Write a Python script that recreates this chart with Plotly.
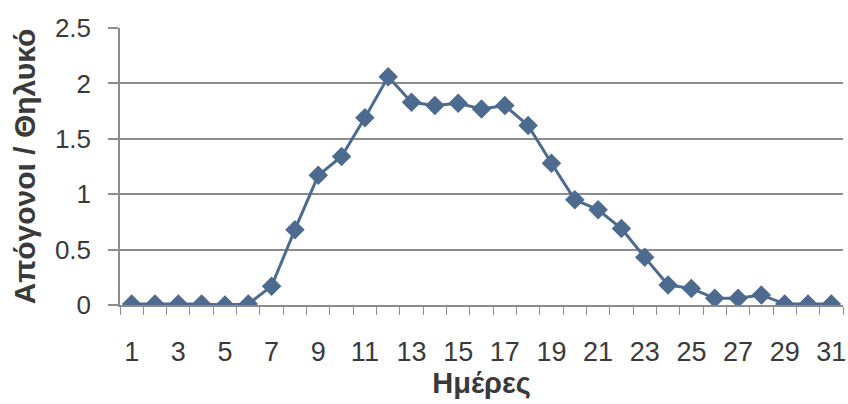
import plotly.graph_objects as go

# Offspring per female, by day
days = [str(d) for d in range(1, 32)]
offspring_per_female = [
    0.01, 0.01, 0.01, 0.01, 0.0, 0.01, 0.17, 0.68, 1.17, 1.34,
    1.69, 2.06, 1.83, 1.80, 1.82, 1.77, 1.80, 1.62, 1.28, 0.95,
    0.86, 0.69, 0.43, 0.18, 0.15, 0.06, 0.06, 0.09, 0.01, 0.01, 0.01,
]
y_ticks = [0, 0.5, 1, 1.5, 2, 2.5]
y_tick_text = ["0", "0.5", "1", "1.5", "2", "2.5"]

SERIES = "#4d6b8f"
GRID = "#8c8c8c"
TEXT = "#3a3a3a"
FONT = "Liberation Sans, Arial, sans-serif"

fig = go.Figure(
    go.Scatter(
        x=days,
        y=offspring_per_female,
        mode="lines+markers",
        line=dict(color=SERIES, width=3),
        marker=dict(symbol="diamond", size=15, color=SERIES),
        hoverinfo="x+y",
    )
)

fig.update_layout(
    width=848,
    height=404,
    margin=dict(l=120, r=5, t=28, b=99),
    paper_bgcolor="#ffffff",
    plot_bgcolor="#ffffff",
    showlegend=False,
    font=dict(family=FONT, color=TEXT, size=26),
)

fig.update_xaxes(
    type="category",
    range=[-0.5, len(days) - 0.5],
    tickmode="linear",
    tick0=0,
    dtick=1,
    tickson="boundaries",
    tickangle=0,
    ticks="outside",
    ticklen=8,
    tickwidth=1,
    tickcolor=GRID,
    ticklabelstep=2,
    ticklabelstandoff=22,
    tickfont=dict(size=27, color=TEXT),
    showline=True,
    linecolor=GRID,
    linewidth=1.5,
    showgrid=False,
    zeroline=False,
    automargin=False,
    title=dict(text="<b>Ημέρες</b>", font=dict(size=29, color=TEXT), standoff=4),
)

fig.update_yaxes(
    range=[0, 2.5],
    tickvals=y_ticks,
    ticktext=y_tick_text,
    ticks="outside",
    ticklen=10,
    tickwidth=1.5,
    tickcolor=GRID,
    ticklabelstandoff=12,
    tickfont=dict(size=26, color=TEXT),
    showline=True,
    linecolor=GRID,
    linewidth=1.5,
    showgrid=True,
    gridcolor=GRID,
    gridwidth=1.5,
    zeroline=False,
    automargin=False,
    title=dict(text="<b>Απόγονοι / Θηλυκό</b>", font=dict(size=30, color=TEXT), standoff=10),
)

fig.write_html("out.html")
